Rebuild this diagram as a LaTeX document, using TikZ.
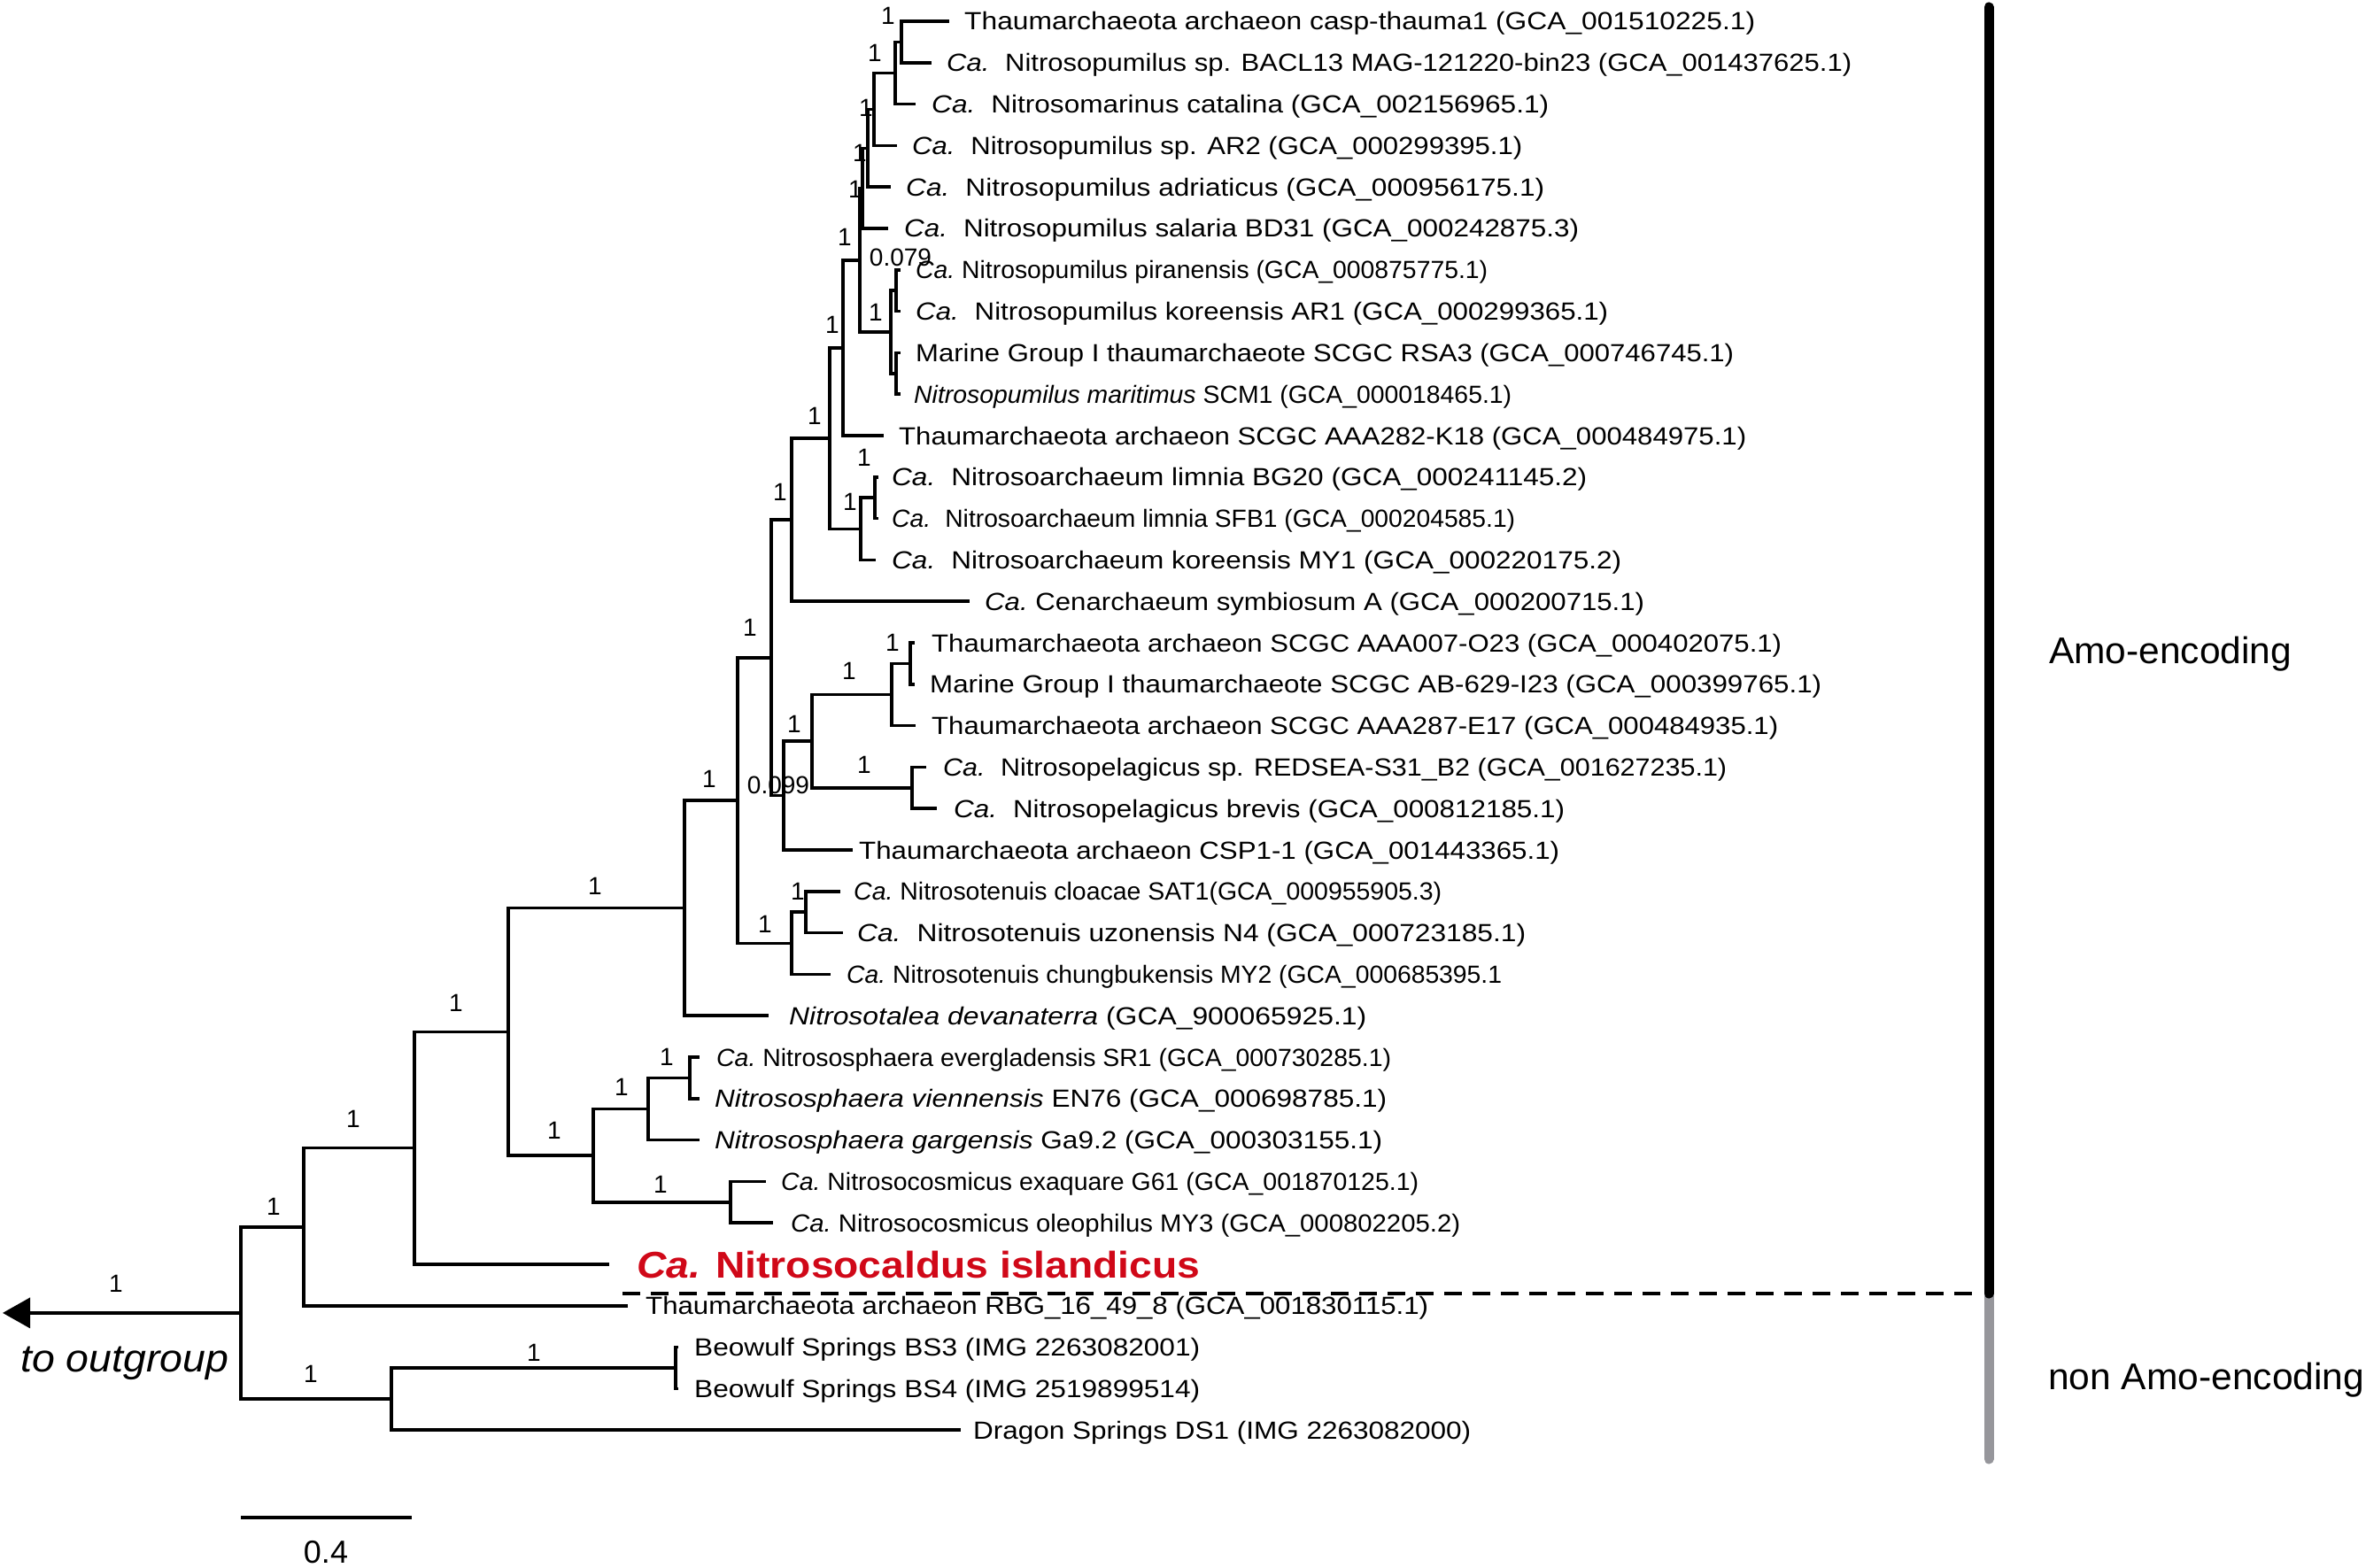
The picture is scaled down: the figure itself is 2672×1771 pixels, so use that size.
\documentclass[tikz,border=0pt]{standalone}
\usepackage{fontspec}
\setmainfont{Liberation Sans}
\usetikzlibrary{arrows.meta}
\definecolor{redlab}{RGB}{208,8,24}
\definecolor{bargrey}{RGB}{150,150,155}
\newcommand\CaW{\textit{Ca.}\hspace{16pt}}
\newcommand\CaN{\textit{Ca.}\ }
\newcommand\fitw[2]{\resizebox{#1pt}{\height}{#2}}
\begin{document}
\begin{tikzpicture}[x=1pt,y=-1pt,
  br/.style={line width=3.5pt},
  lab/.style={anchor=base west,inner sep=0pt,font=\fontsize{28}{34}\selectfont},
  sup/.style={inner sep=0pt,font=\fontsize{28}{34}\selectfont}]
\useasboundingbox (0,0) rectangle (2672,1771);
% leaf tips
\coordinate (t0) at (1072,24);
\coordinate (t1) at (1052,70.8);
\coordinate (t2) at (1034,117.6);
\coordinate (t3) at (1013,164.4);
\coordinate (t4) at (1006,211.2);
\coordinate (t5) at (1003,258);
\coordinate (t6) at (1017,304.8);
\coordinate (t7) at (1017,351.6);
\coordinate (t8) at (1017,398.4);
\coordinate (t9) at (1017,445.2);
\coordinate (t10) at (998,492);
\coordinate (t11) at (992,538.8);
\coordinate (t12) at (992,585.6);
\coordinate (t13) at (989,632.4);
\coordinate (t14) at (1095,679.2);
\coordinate (t15) at (1033,726);
\coordinate (t16) at (1033,772.8);
\coordinate (t17) at (1034,819.6);
\coordinate (t18) at (1046,866.4);
\coordinate (t19) at (1058,913.2);
\coordinate (t20) at (963,960);
\coordinate (t21) at (949,1006.8);
\coordinate (t22) at (952,1053.6);
\coordinate (t23) at (938,1100.4);
\coordinate (t24) at (868,1147.2);
\coordinate (t25) at (790,1194);
\coordinate (t26) at (790,1240.8);
\coordinate (t27) at (790,1287.6);
\coordinate (t28) at (865,1334.4);
\coordinate (t29) at (873,1381.2);
\coordinate (t30) at (688,1428);
\coordinate (t31) at (709,1474.8);
\coordinate (t32) at (766,1521.6);
\coordinate (t33) at (766,1568.4);
\coordinate (t34) at (1085,1615.2);
% internal nodes
\coordinate (n01) at (1018,47.4);
\coordinate (n02) at (1011,82.5);
\coordinate (n03) at (987,123.45);
\coordinate (n04) at (980,167.3);
\coordinate (n05) at (974,212.65);
\coordinate (n67) at (1012,328.2);
\coordinate (n89) at (1012,421.8);
\coordinate (n69) at (1006,375);
\coordinate (nP) at (971,293.8);
\coordinate (nQ) at (952,392.9);
\coordinate (n1112) at (988,562.2);
\coordinate (nR) at (972,597.3);
\coordinate (nS) at (937,495.1);
\coordinate (nT) at (894,587.15);
\coordinate (n1516) at (1028,749.4);
\coordinate (nU) at (1007,784.5);
\coordinate (nW) at (1030,889.8);
\coordinate (nV) at (917,837.15);
\coordinate (nX) at (885,898.6);
\coordinate (nY) at (871,742.9);
\coordinate (nAB) at (910,1030.2);
\coordinate (nAA) at (894,1065.3);
\coordinate (nZ) at (833,904.1);
\coordinate (nAC) at (773,1025.65);
\coordinate (nAG) at (779,1217.4);
\coordinate (nAF) at (732,1252.5);
\coordinate (nAH) at (825,1357.8);
\coordinate (nAE) at (670,1305.15);
\coordinate (nAD) at (574,1165.4);
\coordinate (nAI) at (468,1296.7);
\coordinate (nAJ) at (343,1385.75);
\coordinate (nAL) at (763,1545);
\coordinate (nAM) at (442,1580.1);
\coordinate (nAK) at (272,1482.9);
\coordinate (og) at (3,1482.9);
% branches
\draw[br] (n01) |- (t0); \draw[br] (n01) |- (t1);
\draw[br] (n02) |- (n01); \draw[br] (n02) |- (t2);
\draw[br] (n03) |- (n02); \draw[br] (n03) |- (t3);
\draw[br] (n04) |- (n03); \draw[br] (n04) |- (t4);
\draw[br] (n05) |- (n04); \draw[br] (n05) |- (t5);
\draw[br] (n67) |- (t6); \draw[br] (n67) |- (t7);
\draw[br] (n89) |- (t8); \draw[br] (n89) |- (t9);
\draw[br] (n69) |- (n67); \draw[br] (n69) |- (n89);
\draw[br] (nP) |- (n05); \draw[br] (nP) |- (n69);
\draw[br] (nQ) |- (nP); \draw[br] (nQ) |- (t10);
\draw[br] (n1112) |- (t11); \draw[br] (n1112) |- (t12);
\draw[br] (nR) |- (n1112); \draw[br] (nR) |- (t13);
\draw[br] (nS) |- (nQ); \draw[br] (nS) |- (nR);
\draw[br] (nT) |- (nS); \draw[br] (nT) |- (t14);
\draw[br] (n1516) |- (t15); \draw[br] (n1516) |- (t16);
\draw[br] (nU) |- (n1516); \draw[br] (nU) |- (t17);
\draw[br] (nW) |- (t18); \draw[br] (nW) |- (t19);
\draw[br] (nV) |- (nU); \draw[br] (nV) |- (nW);
\draw[br] (nX) |- (nV); \draw[br] (nX) |- (t20);
\draw[br] (nY) |- (nT); \draw[br] (nY) |- (nX);
\draw[br] (nAB) |- (t21); \draw[br] (nAB) |- (t22);
\draw[br] (nAA) |- (nAB); \draw[br] (nAA) |- (t23);
\draw[br] (nZ) |- (nY); \draw[br] (nZ) |- (nAA);
\draw[br] (nAC) |- (nZ); \draw[br] (nAC) |- (t24);
\draw[br] (nAG) |- (t25); \draw[br] (nAG) |- (t26);
\draw[br] (nAF) |- (nAG); \draw[br] (nAF) |- (t27);
\draw[br] (nAH) |- (t28); \draw[br] (nAH) |- (t29);
\draw[br] (nAE) |- (nAF); \draw[br] (nAE) |- (nAH);
\draw[br] (nAD) |- (nAC); \draw[br] (nAD) |- (nAE);
\draw[br] (nAI) |- (nAD); \draw[br] (nAI) |- (t30);
\draw[br] (nAJ) |- (nAI); \draw[br] (nAJ) |- (t31);
\draw[br] (nAL) |- (t32); \draw[br] (nAL) |- (t33);
\draw[br] (nAM) |- (nAL); \draw[br] (nAM) |- (t34);
\draw[br] (nAK) |- (nAJ); \draw[br] (nAK) |- (nAM);
\draw[br,-{Triangle[length=31pt,width=34pt]}] (nAK) -- (og);
% leaf labels
\node[lab] (l0) at (1089,34) {\fitw{893}{Thaumarchaeota archaeon casp-thauma1 (GCA\_001510225.1)}};
\node[lab] (l1) at (1069,80.8) {\fitw{1022}{\CaW Nitrosopumilus sp. BACL13 MAG-121220-bin23 (GCA\_001437625.1)}};
\node[lab] (l2) at (1052,127.6) {\fitw{697}{\CaW Nitrosomarinus catalina (GCA\_002156965.1)}};
\node[lab] (l3) at (1030,174.4) {\fitw{689}{\CaW Nitrosopumilus sp. AR2 (GCA\_000299395.1)}};
\node[lab] (l4) at (1023,221.2) {\fitw{721}{\CaW Nitrosopumilus adriaticus (GCA\_000956175.1)}};
\node[lab] (l5) at (1021,268) {\fitw{762}{\CaW Nitrosopumilus salaria BD31 (GCA\_000242875.3)}};
\node[lab] (l6) at (1034,314.8) {\fitw{646}{\CaN Nitrosopumilus piranensis (GCA\_000875775.1)}};
\node[lab] (l7) at (1034,361.6) {\fitw{782}{\CaW Nitrosopumilus koreensis AR1 (GCA\_000299365.1)}};
\node[lab] (l8) at (1034,408.4) {\fitw{924}{Marine Group I thaumarchaeote SCGC RSA3 (GCA\_000746745.1)}};
\node[lab] (l9) at (1032,455.2) {\fitw{675}{\textit{Nitrosopumilus maritimus} SCM1 (GCA\_000018465.1)}};
\node[lab] (l10) at (1015,502) {\fitw{957}{Thaumarchaeota archaeon SCGC AAA282-K18 (GCA\_000484975.1)}};
\node[lab] (l11) at (1007,548.8) {\fitw{785}{\CaW Nitrosoarchaeum limnia BG20 (GCA\_000241145.2)}};
\node[lab] (l12) at (1007,595.6) {\fitw{704}{\CaW Nitrosoarchaeum limnia SFB1 (GCA\_000204585.1)}};
\node[lab] (l13) at (1007,642.4) {\fitw{824}{\CaW Nitrosoarchaeum koreensis MY1 (GCA\_000220175.2)}};
\node[lab] (l14) at (1112,689.2) {\fitw{745}{\CaN Cenarchaeum symbiosum A (GCA\_000200715.1)}};
\node[lab] (l15) at (1052,736) {\fitw{960}{Thaumarchaeota archaeon SCGC AAA007-O23 (GCA\_000402075.1)}};
\node[lab] (l16) at (1050,782.8) {\fitw{1007}{Marine Group I thaumarchaeote SCGC AB-629-I23 (GCA\_000399765.1)}};
\node[lab] (l17) at (1052,829.6) {\fitw{956}{Thaumarchaeota archaeon SCGC AAA287-E17 (GCA\_000484935.1)}};
\node[lab] (l18) at (1065,876.4) {\fitw{885}{\CaW Nitrosopelagicus sp. REDSEA-S31\_B2 (GCA\_001627235.1)}};
\node[lab] (l19) at (1077,923.2) {\fitw{690}{\CaW Nitrosopelagicus brevis (GCA\_000812185.1)}};
\node[lab] (l20) at (970,970) {\fitw{791}{Thaumarchaeota archaeon CSP1-1 (GCA\_001443365.1)}};
\node[lab] (l21) at (964,1016.8) {\fitw{664}{\CaN Nitrosotenuis cloacae SAT1(GCA\_000955905.3)}};
\node[lab] (l22) at (968,1063.6) {\fitw{755}{\CaW Nitrosotenuis uzonensis N4 (GCA\_000723185.1)}};
\node[lab] (l23) at (956,1110.4) {\fitw{740}{\CaN Nitrosotenuis chungbukensis MY2 (GCA\_000685395.1}};
\node[lab] (l24) at (891,1157.2) {\fitw{652}{\textit{Nitrosotalea devanaterra} (GCA\_900065925.1)}};
\node[lab] (l25) at (809,1204) {\fitw{762}{\CaN Nitrososphaera evergladensis SR1 (GCA\_000730285.1)}};
\node[lab] (l26) at (807,1250.8) {\fitw{759}{\textit{Nitrososphaera viennensis} EN76 (GCA\_000698785.1)}};
\node[lab] (l27) at (807,1297.6) {\fitw{754}{\textit{Nitrososphaera gargensis} Ga9.2 (GCA\_000303155.1)}};
\node[lab] (l28) at (882,1344.4) {\fitw{720}{\CaN Nitrosocosmicus exaquare G61 (GCA\_001870125.1)}};
\node[lab] (l29) at (893,1391.2) {\fitw{756}{\CaN Nitrosocosmicus oleophilus MY3 (GCA\_000802205.2)}};
\node[lab,font=\fontsize{42}{50}\selectfont\bfseries,text=redlab] (l30) at (719,1443) {\fitw{636}{\textit{Ca.} Nitrosocaldus islandicus}};
\node[lab] (l31) at (729,1484.8) {\fitw{884}{Thaumarchaeota archaeon RBG\_16\_49\_8 (GCA\_001830115.1)}};
\node[lab] (l32) at (784,1531.6) {\fitw{571}{Beowulf Springs BS3 (IMG 2263082001)}};
\node[lab] (l33) at (784,1578.4) {\fitw{571}{Beowulf Springs BS4 (IMG 2519899514)}};
\node[lab] (l34) at (1099,1625.2) {\fitw{562}{Dragon Springs DS1 (IMG 2263082000)}};
% support values
\node[sup] (s1) at (1003,18) {1};
\node[sup] (s2) at (988,60) {1};
\node[sup] (s3) at (978,122) {1};
\node[sup] (s4) at (971,173) {1};
\node[sup] (s5) at (966,214) {1};
\node[sup] (s6) at (954,268) {1};
\node[sup] (s7) at (1017,291) {0.079};
\node[sup] (s8) at (989,353) {1};
\node[sup] (s9) at (940,367) {1};
\node[sup] (s10) at (920,470) {1};
\node[sup] (s11) at (976,517) {1};
\node[sup] (s12) at (960,567) {1};
\node[sup] (s13) at (881,556) {1};
\node[sup] (s14) at (1008,726) {1};
\node[sup] (s15) at (959,758) {1};
\node[sup] (s16) at (847,709) {1};
\node[sup] (s17) at (879,887) {0.099};
\node[sup] (s18) at (897,818) {1};
\node[sup] (s19) at (976,864) {1};
\node[sup] (s20) at (901,1007) {1};
\node[sup] (s21) at (864,1044) {1};
\node[sup] (s22) at (801,880) {1};
\node[sup] (s23) at (672,1001) {1};
\node[sup] (s24) at (626,1277) {1};
\node[sup] (s25) at (753,1194) {1};
\node[sup] (s26) at (702,1228) {1};
\node[sup] (s27) at (746,1338) {1};
\node[sup] (s28) at (515,1133) {1};
\node[sup] (s29) at (399,1264) {1};
\node[sup] (s30) at (309,1363) {1};
\node[sup] (s31) at (131,1450) {1};
\node[sup] (s32) at (603,1528) {1};
\node[sup] (s33) at (351,1552) {1};
% outgroup label
\node[lab,font=\fontsize{44}{52}\selectfont\itshape] (outl) at (23,1549) {\fitw{235}{to outgroup}};
% separator and bars
\coordinate (dS) at (703,1461);
\coordinate (dE) at (2238,1461);
\draw[line width=3.5pt,dash pattern=on 20pt off 12pt] (dS) -- (dE);
\coordinate (bTop) at (2246,8);
\coordinate (bMid) at (2246,1461);
\coordinate (bBot) at (2246,1648);
\draw[line width=11pt,line cap=round,bargrey] (bMid) -- (bBot);
\draw[line width=11pt,line cap=round] (bTop) -- (bMid);
\node[lab,font=\fontsize{42}{50}\selectfont] (amo) at (2314,749) {\fitw{274}{Amo-encoding}};
\node[lab,font=\fontsize{42}{50}\selectfont] (namo) at (2313,1569) {\fitw{357}{non Amo-encoding}};
% scale bar
\coordinate (sbL) at (272,1714);
\coordinate (sbR) at (465,1714);
\draw[br] (sbL) -- (sbR);
\node[sup,font=\fontsize{36}{42}\selectfont] (sbl) at (368,1753) {0.4};
\end{tikzpicture}
\end{document}
